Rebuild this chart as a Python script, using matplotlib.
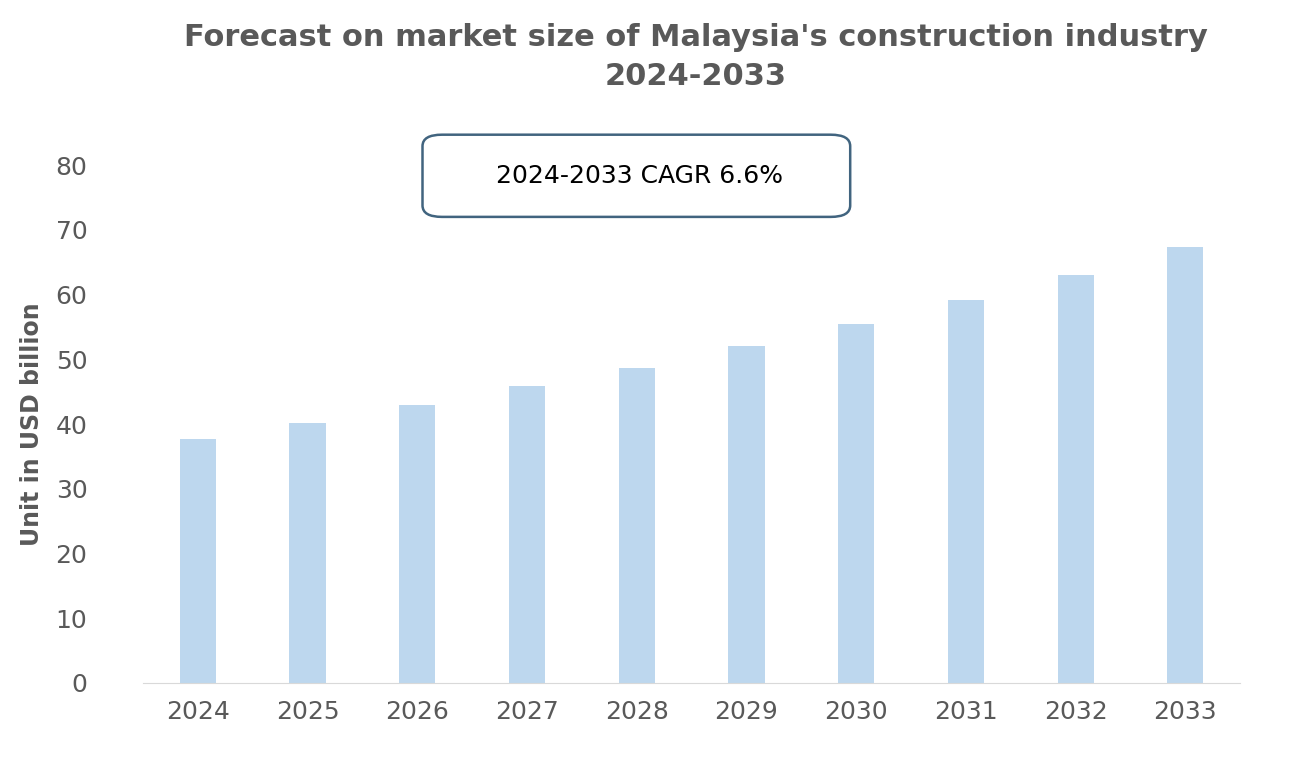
import matplotlib.pyplot as plt
from matplotlib.patches import FancyBboxPatch

years = ["2024", "2025", "2026", "2027", "2028", "2029", "2030", "2031", "2032", "2033"]
market_size = [37.7, 40.2, 42.9, 45.9, 48.6, 52.0, 55.4, 59.2, 63.0, 67.3]
y_ticks = [0, 10, 20, 30, 40, 50, 60, 70, 80]

fig = plt.figure(figsize=(13, 7.61), dpi=100)
ax = fig.add_axes([0.11, 0.1025, 0.844, 0.6805])

ax.bar(range(len(years)), market_size, width=0.33, color="#bdd7ee")
ax.set_xlim(-0.5, len(years) - 0.5)
ax.set_ylim(0, 80)
ax.set_yticks(y_ticks)
ax.set_xticks(range(len(years)))
ax.set_xticklabels(years)
ax.tick_params(axis="both", length=0, labelsize=18, colors="#595959", pad=12)
ax.tick_params(axis="y", pad=40)
for s in ["top", "right", "left"]:
    ax.spines[s].set_visible(False)
ax.spines["bottom"].set_color("#d9d9d9")

ax.set_ylabel("Unit in USD billion", fontsize=17, fontweight="bold", color="#595959", labelpad=8)
fig.text(0.535, 0.925, "Forecast on market size of Malaysia's construction industry\n2024-2033",
         ha="center", va="center", fontsize=22, fontweight="bold", color="#595959", linespacing=1.4)

box = FancyBboxPatch((0.325, 0.715), 0.329, 0.108, boxstyle="round,pad=0,rounding_size=0.015",
                     transform=fig.transFigure, facecolor="white", edgecolor="#41647f", linewidth=1.8)
fig.patches.append(box)
fig.text(0.492, 0.769, "2024-2033 CAGR 6.6%", ha="center", va="center", fontsize=18, color="black")

fig.savefig("out.png", dpi=100)
